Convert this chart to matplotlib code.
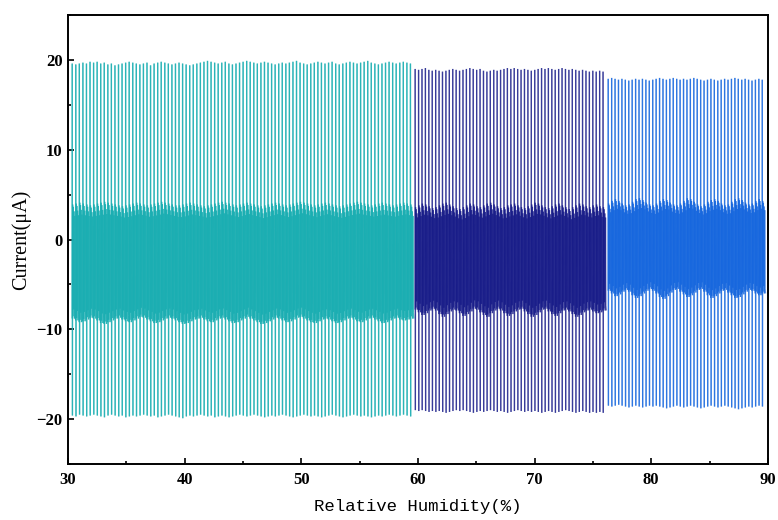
import numpy as np
import matplotlib
matplotlib.use("Agg")
import matplotlib.pyplot as plt
from matplotlib.collections import LineCollection
from matplotlib.ticker import MultipleLocator

# Humidity ranges covered by each recording block
teal_range = (30.35, 59.65)
navy_range = (59.75, 76.15)
blue_range = (76.30, 89.80)

# Positive / negative spike peaks of each cycle (µA)
teal_hi = [
    19.6, 19.5, 19.6, 19.7, 19.6, 19.8, 19.7, 19.8, 19.6, 19.7, 19.5, 19.6,
    19.4, 19.5, 19.6, 19.7, 19.8, 19.7, 19.6, 19.5, 19.6, 19.7, 19.4, 19.6,
    19.7, 19.8, 19.7, 19.6, 19.5, 19.6, 19.7, 19.6, 19.5, 19.4, 19.5, 19.6,
    19.7, 19.8, 19.9, 19.8, 19.7, 19.6, 19.7, 19.8, 19.6, 19.5, 19.6, 19.7,
    19.8, 19.9, 19.8, 19.7, 19.6, 19.7, 19.8, 19.7, 19.6, 19.5, 19.6, 19.7,
    19.6, 19.7, 19.8, 19.9, 19.7, 19.6, 19.5, 19.6, 19.7, 19.8, 19.7, 19.6,
    19.7, 19.8, 19.6, 19.5, 19.6, 19.7, 19.8, 19.7, 19.6, 19.7, 19.8, 19.9,
    19.7, 19.6, 19.5, 19.6, 19.7, 19.8, 19.7, 19.6, 19.7, 19.8, 19.7, 19.6,
]
teal_lo = [
    -19.6, -19.7, -19.5, -19.6, -19.7, -19.6, -19.5, -19.6, -19.7, -19.8, -19.6, -19.5,
    -19.6, -19.7, -19.6, -19.8, -19.7, -19.6, -19.7, -19.6, -19.5, -19.6, -19.7, -19.6,
    -19.8, -19.7, -19.6, -19.5, -19.6, -19.7, -19.8, -19.9, -19.7, -19.6, -19.7, -19.6,
    -19.5, -19.6, -19.7, -19.6, -19.8, -19.7, -19.6, -19.7, -19.8, -19.7, -19.6, -19.5,
    -19.6, -19.7, -19.6, -19.5, -19.6, -19.7, -19.8, -19.7, -19.6, -19.7, -19.6, -19.5,
    -19.6, -19.7, -19.8, -19.7, -19.6, -19.5, -19.6, -19.7, -19.6, -19.7, -19.8, -19.7,
    -19.6, -19.5, -19.6, -19.7, -19.8, -19.7, -19.6, -19.5, -19.6, -19.7, -19.6, -19.7,
    -19.8, -19.7, -19.6, -19.7, -19.6, -19.5, -19.6, -19.7, -19.6, -19.5, -19.6, -19.7,
]
navy_hi = [
    19.0, 18.9, 19.0, 19.1, 18.9, 18.8, 18.9, 18.8, 18.7, 18.8, 18.9, 19.0, 18.9, 18.8,
    18.9, 19.0, 19.1, 19.0, 18.9, 19.0, 18.8, 18.7, 18.8, 18.9, 18.8, 18.9, 19.0, 19.1,
    19.0, 19.1, 19.0, 18.9, 19.0, 18.9, 18.8, 18.9, 19.0, 19.1, 19.0, 19.1, 19.0, 18.9,
    19.0, 19.1, 19.0, 18.9, 19.0, 18.9, 18.8, 18.9, 18.8, 18.7, 18.8, 18.7, 18.8, 18.7,
]
navy_lo = [
    -19.0, -19.1, -19.0, -19.1, -19.2, -19.1, -19.2, -19.1, -19.2, -19.3, -19.2, -19.1,
    -19.0, -19.1, -19.0, -19.1, -19.2, -19.3, -19.2, -19.1, -19.2, -19.1, -19.0, -19.1,
    -19.2, -19.1, -19.2, -19.3, -19.2, -19.1, -19.0, -19.1, -19.2, -19.1, -19.2, -19.1,
    -19.2, -19.3, -19.2, -19.1, -19.2, -19.3, -19.2, -19.1, -19.0, -19.1, -19.2, -19.3,
    -19.2, -19.1, -19.2, -19.3, -19.2, -19.3, -19.2, -19.3,
]
blue_hi = [
    17.9, 18.0, 17.9, 17.8, 17.9, 17.8, 17.7, 17.8, 17.9, 17.8, 17.9, 17.8,
    17.7, 17.8, 17.9, 18.0, 17.9, 17.8, 17.9, 18.0, 17.9, 17.8, 17.9, 17.8,
    17.9, 18.0, 17.9, 17.8, 17.7, 17.8, 17.9, 17.8, 17.7, 17.8, 17.9, 17.8,
    17.9, 18.0, 17.9, 17.8, 17.9, 17.8, 17.7, 17.8, 17.9, 17.8,
]
blue_lo = [
    -18.5, -18.6, -18.5, -18.4, -18.5, -18.6, -18.7, -18.6, -18.5, -18.6, -18.7, -18.6,
    -18.5, -18.6, -18.5, -18.6, -18.7, -18.8, -18.7, -18.6, -18.5, -18.6, -18.7, -18.6,
    -18.5, -18.6, -18.7, -18.8, -18.7, -18.6, -18.5, -18.6, -18.7, -18.6, -18.5, -18.6,
    -18.7, -18.8, -18.9, -18.8, -18.7, -18.6, -18.7, -18.6, -18.5, -18.6,
]

# Upper / lower limits of the ringing after each spike (µA)
teal_top = [
    3.9, 4.0, 4.1, 4.0, 3.9, 3.8, 3.9, 4.0, 4.1, 4.2, 4.1, 4.0,
    3.9, 3.8, 3.7, 3.8, 3.9, 4.0, 4.1, 4.0, 3.9, 3.8, 3.9, 4.0,
    4.1, 4.2, 4.1, 4.0, 3.9, 3.8, 3.8, 3.9, 4.0, 4.1, 4.0, 3.9,
    3.8, 3.7, 3.8, 3.9, 4.0, 4.1, 4.2, 4.1, 4.0, 3.9, 3.8, 3.9,
    4.0, 4.1, 4.0, 3.9, 3.8, 3.7, 3.8, 3.9, 4.0, 4.1, 4.0, 3.9,
    3.8, 3.9, 4.0, 4.1, 4.2, 4.1, 4.0, 3.9, 3.8, 3.9, 4.0, 4.1,
    4.0, 3.9, 3.8, 3.7, 3.8, 3.9, 4.0, 4.1, 4.2, 4.1, 4.0, 3.9,
    3.8, 3.9, 4.0, 4.1, 4.0, 3.9, 3.8, 3.9, 4.0, 4.1, 4.0, 3.9,
]
teal_bot = [
    -8.8, -9.0, -9.2, -9.1, -8.9, -8.7, -8.8, -9.0, -9.3, -9.4, -9.2, -9.0,
    -8.8, -8.7, -8.9, -9.1, -9.2, -9.0, -8.8, -8.6, -8.7, -8.9, -9.1, -9.3,
    -9.2, -9.0, -8.8, -8.7, -8.8, -9.0, -9.2, -9.4, -9.3, -9.1, -8.9, -8.8,
    -8.7, -8.9, -9.1, -9.2, -9.0, -8.8, -8.7, -8.9, -9.1, -9.3, -9.2, -9.0,
    -8.8, -8.6, -8.8, -9.0, -9.2, -9.4, -9.3, -9.1, -8.9, -8.7, -8.8, -9.0,
    -9.2, -9.1, -8.9, -8.7, -8.6, -8.8, -9.0, -9.2, -9.3, -9.1, -8.9, -8.8,
    -8.9, -9.1, -9.3, -9.2, -9.0, -8.8, -8.7, -8.9, -9.1, -9.2, -9.0, -8.8,
    -8.7, -8.9, -9.1, -9.3, -9.2, -9.0, -8.8, -8.7, -8.9, -9.0, -8.9, -8.8,
]
navy_top = [
    3.6, 3.8, 4.0, 3.9, 3.7, 3.5, 3.6, 3.8, 4.0, 4.1, 3.9, 3.7, 3.5, 3.4,
    3.6, 3.8, 4.0, 3.9, 3.7, 3.6, 3.8, 4.0, 4.1, 3.9, 3.7, 3.5, 3.6, 3.8,
    3.9, 4.0, 3.8, 3.6, 3.5, 3.7, 3.9, 4.1, 4.0, 3.8, 3.6, 3.5, 3.7, 3.9,
    4.0, 3.8, 3.6, 3.4, 3.6, 3.8, 4.0, 3.9, 3.7, 3.6, 3.8, 3.9, 3.7, 3.6,
]
navy_bot = [
    -7.8, -8.1, -8.4, -8.2, -7.9, -7.7, -7.9, -8.3, -8.6, -8.3, -8.0, -7.8, -7.9, -8.2,
    -8.5, -8.3, -8.0, -7.7, -7.8, -8.1, -8.4, -8.6, -8.2, -7.9, -7.7, -7.9, -8.2, -8.5,
    -8.3, -8.0, -7.8, -7.7, -8.0, -8.3, -8.6, -8.4, -8.1, -7.8, -7.7, -8.0, -8.3, -8.5,
    -8.2, -7.9, -7.8, -8.0, -8.3, -8.6, -8.4, -8.1, -7.9, -7.8, -8.0, -8.2, -8.1, -7.9,
]
blue_top = [
    4.0, 4.3, 4.5, 4.3, 4.0, 3.8, 3.9, 4.2, 4.5, 4.6, 4.4, 4.1,
    3.9, 3.8, 4.0, 4.3, 4.5, 4.4, 4.1, 3.9, 3.8, 4.0, 4.3, 4.6,
    4.5, 4.2, 3.9, 3.7, 3.9, 4.2, 4.4, 4.5, 4.3, 4.0, 3.8, 3.9,
    4.2, 4.5, 4.6, 4.4, 4.1, 3.9, 4.0, 4.3, 4.5, 4.3,
]
blue_bot = [
    -5.7, -6.0, -6.3, -6.1, -5.8, -5.6, -5.8, -6.2, -6.5, -6.3, -6.0, -5.7,
    -5.5, -5.7, -6.0, -6.4, -6.6, -6.3, -5.9, -5.6, -5.5, -5.8, -6.1, -6.4,
    -6.2, -5.9, -5.6, -5.5, -5.8, -6.2, -6.5, -6.3, -6.0, -5.7, -5.6, -5.9,
    -6.2, -6.5, -6.4, -6.1, -5.8, -5.6, -5.7, -6.0, -6.2, -6.0,
]

# Shape of one cycle: spike up, swing down, then damped ringing in the band
spike_phase = [0.00, 0.04, 0.10, 0.16]
ring_phase = [0.26, 0.36, 0.46, 0.56, 0.66, 0.76, 0.87]
ring_level = [0.02, 0.98, 0.08, 0.94, 0.00, 0.90, 0.05]


def waveform(xr, hi, lo, top, bot):
    n = len(hi)
    period = (xr[1] - xr[0]) / n
    ph = np.asarray(spike_phase + ring_phase)
    xs, ys = [], []
    for i in range(n):
        x0 = xr[0] + i * period
        t, b = top[i], bot[i]
        lv = [b, hi[i], lo[i], t] + [b + r * (t - b) for r in ring_level]
        xs.extend(x0 + ph * period)
        ys.extend(lv)
    xs.append(xr[1])
    ys.append(bot[-1])
    return np.asarray(xs), np.asarray(ys)


fig = plt.figure(figsize=(7.78, 5.20), dpi=100)
ax = fig.add_axes([0.0874, 0.1077, 0.8996, 0.8633])

for xr, hi, lo, top, bot, col, alpha in [
    (teal_range, teal_hi, teal_lo, teal_top, teal_bot, "#1aaeb2", 0.72),
    (navy_range, navy_hi, navy_lo, navy_top, navy_bot, "#161a88", 0.62),
    (blue_range, blue_hi, blue_lo, blue_top, blue_bot, "#1667de", 0.68),
]:
    x, y = waveform(xr, hi, lo, top, bot)
    pts = np.column_stack([x, y])
    segs = np.stack([pts[:-1], pts[1:]], axis=1)
    ax.add_collection(LineCollection(segs, colors=col, linewidths=0.95,
                                     alpha=alpha, capstyle="butt"))

ax.set_xlim(30, 90)
ax.set_ylim(-25, 25)
ax.xaxis.set_minor_locator(MultipleLocator(5))
ax.yaxis.set_minor_locator(MultipleLocator(5))
ax.tick_params(which="both", direction="in", top=False, right=False, width=1.2)
ax.tick_params(which="major", length=4)
ax.tick_params(which="minor", length=2.5)

ax.set_xticks([30, 40, 50, 60, 70, 80, 90])
ax.set_xticklabels(["30", "40", "50", "60", "70", "80", "90"],
                   fontfamily="Liberation Serif", fontweight="bold", fontsize=12)
ax.set_yticks([-20, -10, 0, 10, 20])
ax.set_yticklabels(["\u221220", "\u221210", "0", "10", "20"],
                   fontfamily="Liberation Serif", fontweight="bold", fontsize=12)
ax.tick_params(axis="x", pad=6)
ax.tick_params(axis="y", pad=4)

for s in ax.spines.values():
    s.set_linewidth(1.4)

ax.set_xlabel("Relative Humidity(%)", fontfamily="Liberation Mono", fontsize=12.5,
              labelpad=8)
ax.set_ylabel("Current(\u03bcA)", fontfamily="Liberation Serif", fontsize=14.5,
              labelpad=4)

fig.savefig("out.png", dpi=100)
